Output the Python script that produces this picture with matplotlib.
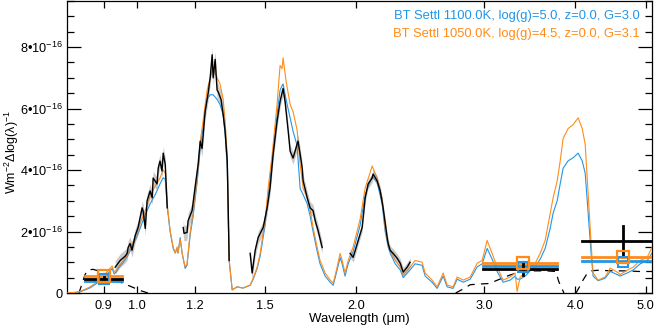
import numpy as np
import matplotlib
matplotlib.use("Agg")
import matplotlib.pyplot as plt
from matplotlib.ticker import FixedLocator, NullLocator, MultipleLocator

plt.rcParams['font.family'] = ['Liberation Sans', 'DejaVu Sans']
plt.rcParams['mathtext.fontset'] = 'custom'
plt.rcParams['mathtext.rm'] = 'Liberation Sans'
plt.rcParams['mathtext.it'] = 'Liberation Sans:italic'

BLUE = '#2196e8'
ORANGE = '#ff8c1a'

# ---- model spectra (flux in units of 1e-16 W m^-2 dlog(lambda)^-1) ----
model_wave = [0.801, 0.822, 0.835, 0.848, 0.862, 0.876, 0.890, 0.904, 0.918, 0.924,
              0.930, 0.937, 0.942, 0.954, 0.969, 0.984, 1.000, 1.0095, 1.026, 1.042,
              1.059, 1.075, 1.086, 1.093, 1.100, 1.110, 1.121, 1.128, 1.135, 1.138,
              1.146, 1.153, 1.164, 1.171, 1.183, 1.194, 1.209, 1.221, 1.232, 1.248,
              1.260, 1.272, 1.288, 1.300, 1.313, 1.321, 1.330, 1.334, 1.338, 1.351,
              1.372, 1.398, 1.430, 1.444, 1.462, 1.476, 1.499, 1.514, 1.533, 1.557,
              1.572, 1.582, 1.587, 1.602, 1.623, 1.638, 1.659, 1.675, 1.691, 1.713,
              1.729, 1.745, 1.768, 1.784, 1.813, 1.842, 1.860, 1.883, 1.901, 1.913,
              1.931, 1.950, 1.981, 2.025, 2.058, 2.104, 2.137, 2.171, 2.192, 2.213,
              2.227, 2.263, 2.299, 2.321, 2.372, 2.410, 2.464, 2.488, 2.543, 2.584,
              2.634, 2.667, 2.718, 2.753, 2.806, 2.869, 2.933, 2.980, 3.027, 3.075,
              3.124, 3.184, 3.256, 3.307, 3.328, 3.360, 3.414, 3.468, 3.524, 3.580,
              3.637, 3.695, 3.730, 3.778, 3.814, 3.850, 3.911, 3.974, 4.037, 4.089,
              4.128, 4.167, 4.206, 4.233, 4.301, 4.397, 4.468, 4.568, 4.611, 4.714,
              4.805, 4.913, 5.022, 5.100, 5.170]

flux_1050 = [0.0, 0.02, 0.05, 0.12, 0.2, 0.32, 0.45, 0.62, 0.8, 0.88,
             0.68, 0.75, 0.85, 1.0, 1.23, 1.6, 1.97, 2.26, 2.68, 3.16,
             3.48, 3.74, 4.0, 3.9, 2.9, 2.03, 1.48, 1.3, 1.5, 1.3,
             1.75, 1.3, 0.85, 0.95, 2.0, 2.6, 3.7, 4.9, 5.6, 6.6,
             7.0, 7.3, 7.0, 6.8, 6.3, 5.6, 4.4, 2.6, 1.1, 0.1,
             0.2, 0.16, 0.26, 0.48, 0.84, 1.29, 2.35, 3.42, 4.5, 6.13,
             7.4, 7.3, 7.65, 6.9, 6.13, 5.9, 5.3, 4.2, 3.4, 3.1,
             2.7, 2.13, 1.48, 1.06, 0.65, 0.42, 0.32, 0.84, 1.29, 1.06,
             0.65, 1.06, 1.5, 2.4, 3.42, 4.13, 3.74, 3.1, 2.1, 1.6,
             1.39, 1.06, 0.84, 0.58, 0.84, 1.06, 1.0, 0.65, 0.42, 0.2,
             0.65, 0.26, 0.2, 0.52, 0.42, 0.52, 0.97, 1.06, 1.71, 1.29,
             0.84, 0.42, 0.52, 0.65, 0.05, 0.52, 0.65, 0.84, 0.97, 1.29,
             1.71, 2.58, 3.1, 3.65, 4.29, 5.03, 5.35, 5.48, 5.7, 5.35,
             4.84, 3.23, 1.61, 0.65, 0.42, 0.52, 0.81, 0.68, 0.6, 0.74,
             0.84, 1.06, 1.16, 1.48, 1.5]

flux_1100 = [0.0, 0.02, 0.04, 0.1, 0.17, 0.28, 0.4, 0.55, 0.72, 0.8,
             0.62, 0.7, 0.8, 0.95, 1.18, 1.5, 1.85, 2.1, 2.55, 2.9,
             3.2, 3.55, 3.75, 3.7, 2.8, 2.0, 1.45, 1.3, 1.45, 1.3,
             1.8, 1.3, 0.8, 0.9, 1.9, 2.5, 3.6, 4.7, 5.4, 6.3,
             6.45, 6.45, 6.3, 6.13, 5.8, 5.2, 4.1, 2.5, 1.05, 0.1,
             0.2, 0.16, 0.25, 0.45, 0.8, 1.2, 2.2, 3.2, 4.3, 5.8,
             6.6, 6.75, 6.8, 6.3, 5.7, 5.26, 4.8, 3.4, 3.2, 2.9,
             2.5, 2.0, 1.35, 0.95, 0.55, 0.35, 0.25, 0.75, 1.15, 0.95,
             0.55, 0.95, 1.35, 2.2, 3.2, 3.8, 3.6, 2.9, 2.0, 1.5,
             1.3, 0.95, 0.75, 0.5, 0.75, 0.95, 0.9, 0.55, 0.35, 0.15,
             0.55, 0.2, 0.15, 0.45, 0.35, 0.45, 0.85, 0.95, 1.45, 1.1,
             0.7, 0.35, 0.42, 0.55, 0.45, 0.45, 0.55, 0.72, 0.85, 1.1,
             1.45, 2.1, 2.6, 3.0, 3.55, 4.06, 4.3, 4.4, 4.55, 4.3,
             3.9, 2.6, 1.3, 0.55, 0.4, 0.48, 0.7, 0.6, 0.55, 0.65,
             0.75, 0.95, 1.05, 1.3, 1.35]

# ---- observed spectrum, four segments ----
obs_wave_1 = [0.933, 0.948, 0.963, 0.969, 0.972, 0.978, 0.984, 0.994, 1.003, 1.016,
              1.019, 1.026, 1.032, 1.042, 1.049, 1.052, 1.065, 1.069, 1.075, 1.082,
              1.086, 1.093, 1.100]
obs_flux_1 = [0.84, 1.06, 1.2, 1.29, 1.48, 1.61, 1.39, 1.87, 2.13, 2.77,
              2.68, 2.1, 3.0, 3.32, 3.1, 3.74, 3.55, 4.06, 4.29, 3.97,
              4.55, 4.19, 2.77]
obs_wave_2 = [1.157, 1.160, 1.171, 1.175, 1.190, 1.201, 1.213, 1.221, 1.228, 1.240,
              1.252, 1.260, 1.268, 1.272, 1.280, 1.288, 1.292, 1.304, 1.313, 1.321,
              1.330, 1.334, 1.338]
obs_flux_2 = [2.13, 1.94, 1.97, 2.35, 2.68, 3.42, 4.19, 4.94, 4.7, 5.9,
              6.5, 7.0, 7.75, 7.0, 7.6, 6.6, 6.55, 6.3, 5.8, 5.26,
              4.29, 2.77, 1.06]
obs_wave_3 = [1.430, 1.439, 1.453, 1.467, 1.490, 1.509, 1.523, 1.538, 1.557, 1.572,
              1.587, 1.597, 1.613, 1.623, 1.638, 1.659, 1.664, 1.675, 1.686, 1.691,
              1.713, 1.729, 1.745, 1.757, 1.773, 1.796]
obs_flux_3 = [1.29, 0.65, 1.39, 1.81, 2.13, 2.77, 3.42, 4.52, 5.58, 6.23,
              6.65, 6.23, 5.26, 4.61, 4.39, 4.84, 4.94, 4.52, 4.06, 3.65,
              3.1, 2.77, 2.68, 2.35, 2.03, 1.48]
obs_wave_4 = [1.962, 1.981, 2.013, 2.038, 2.058, 2.077, 2.104, 2.110, 2.137, 2.158,
              2.178, 2.206, 2.213, 2.227, 2.248, 2.277, 2.299, 2.321, 2.350, 2.372]
obs_flux_4 = [1.29, 1.16, 1.71, 2.13, 3.1, 3.55, 3.74, 3.87, 3.65, 3.32,
              2.77, 1.81, 1.61, 1.39, 1.29, 1.13, 0.97, 0.68, 0.84, 1.0]
obs_err = [0.22, 0.25, 0.2, 0.15]

# ---- filter transmission curves (scaled) ----
filt_wave_1 = [0.832, 0.84, 0.848, 0.856, 0.87, 0.89, 0.91, 0.933, 0.96, 0.99, 1.01, 1.035]
filt_flux_1 = [0.0, 0.3, 0.6, 0.75, 0.77, 0.7, 0.58, 0.42, 0.3, 0.17, 0.08, 0.0]
filt_wave_2 = [2.74, 2.80, 2.87, 2.95, 3.05, 3.15, 3.25, 3.35, 3.5, 3.65, 3.76, 3.80, 3.86]
filt_flux_2 = [0.0, 0.12, 0.27, 0.29, 0.31, 0.45, 0.58, 0.68, 0.72, 0.72, 0.7, 0.35, 0.0]
filt_wave_3 = [4.01, 4.05, 4.10, 4.15, 4.2, 4.3, 4.5, 4.7, 4.9, 5.1, 5.2]
filt_flux_3 = [0.0, 0.18, 0.42, 0.62, 0.72, 0.74, 0.72, 0.72, 0.7, 0.7, 0.7]

# ---- photometry ----
phot_wave = [0.900, 3.392, 4.648]
phot_lo = [0.848, 2.99, 4.089]
phot_hi = [0.954, 3.78, 5.25]
phot_obs = [0.47, 0.78, 1.69]
phot_obs_err = [0.06, 0.2, 0.5]
phot_1100 = [0.40, 0.88, 1.04]
phot_1050 = [0.55, 0.98, 1.16]
phot_sq_1100 = [0.47, 0.85, 1.0]
phot_sq_1050 = [0.55, 0.98, 1.16]

legend_1100 = 'BT Settl 1100.0K, log(g)=5.0, z=0.0, G=3.0'
legend_1050 = 'BT Settl 1050.0K, log(g)=4.5, z=0.0, G=3.1'

xticks = [0.9, 1.0, 1.2, 1.5, 2.0, 3.0, 4.0, 5.0]
yticks = [0, 2, 4, 6, 8]

fig = plt.figure(figsize=(6.54, 3.31), dpi=100)
ax = fig.add_axes([67/654, 1 - 293/331, 585/654, 292/331])

# filter curves
for fw, ff in [(filt_wave_1, filt_flux_1), (filt_wave_2, filt_flux_2), (filt_wave_3, filt_flux_3)]:
    ax.plot(fw, ff, color='black', lw=0.9, ls=(0, (6, 5)), zorder=1)

# models
ax.plot(model_wave, flux_1100, color=BLUE, lw=0.8, zorder=2)
ax.plot(model_wave, flux_1050, color=ORANGE, lw=0.8, zorder=3)

# observed spectrum with error band
segs = [(obs_wave_1, obs_flux_1), (obs_wave_2, obs_flux_2),
        (obs_wave_3, obs_flux_3), (obs_wave_4, obs_flux_4)]
for (w, f), e in zip(segs, obs_err):
    f = np.asarray(f)
    ax.fill_between(w, f - e, f + e, color='0.55', alpha=0.45, lw=0, zorder=4)
    ax.plot(w, f, color='black', lw=1.0, zorder=5)

# photometry
for i in range(len(phot_wave)):
    ax.plot([phot_lo[i], phot_hi[i]], [phot_1100[i]] * 2, color=BLUE, lw=2, zorder=6)
    ax.plot([phot_lo[i], phot_hi[i]], [phot_1050[i]] * 2, color=ORANGE, lw=2, zorder=6)
    ax.plot([phot_lo[i], phot_hi[i]], [phot_obs[i]] * 2, color='black', lw=2, zorder=7)
    ax.plot([phot_wave[i]] * 2, [phot_obs[i] - phot_obs_err[i], phot_obs[i] + phot_obs_err[i]],
            color='black', lw=2, zorder=7)
ax.plot(phot_wave, phot_sq_1100, ls='none', marker='s', ms=6.5, mfc='none', mec=BLUE, mew=1.5, zorder=8)
ax.plot(phot_wave, phot_sq_1050, ls='none', marker='s', ms=8, mfc='none', mec=ORANGE, mew=1.6, zorder=8)

ax.set_xscale('log')
ax.set_xlim(0.801, 5.10)
ax.set_ylim(0, 9.5)
ax.xaxis.set_major_locator(FixedLocator(xticks))
ax.xaxis.set_minor_locator(NullLocator())
ax.set_xticklabels([f'{t:.1f}' for t in xticks])
ax.yaxis.set_major_locator(FixedLocator(yticks))
ax.yaxis.set_minor_locator(MultipleLocator(0.5))
ax.set_yticklabels(['0' if t == 0 else f'{t}•10$^{{-16}}$' for t in yticks])

ax.tick_params(axis='both', which='both', direction='in', top=True, right=True,
               labelsize=9.2, width=0.9, colors='black')
ax.tick_params(axis='x', which='major', length=5, pad=5)
ax.tick_params(axis='y', which='major', length=10, pad=3)
ax.tick_params(axis='y', which='minor', length=5)
for s in ax.spines.values():
    s.set_linewidth(0.9)

ax.set_xlabel('Wavelength (μm)', fontsize=9.5, labelpad=1)
fig.text(12/654, 1 - 152/331, 'Wm$^{-2}$Δlog(λ)$^{-1}$', rotation=90,
         ha='center', va='center', fontsize=9.0)

ax.text(0.9795, 0.9486, legend_1100, transform=ax.transAxes, ha='right', va='center',
        color=BLUE, fontsize=9.4)
ax.text(0.9795, 0.887, legend_1050, transform=ax.transAxes, ha='right', va='center',
        color=ORANGE, fontsize=9.4)

fig.savefig('out.png', dpi=100)
